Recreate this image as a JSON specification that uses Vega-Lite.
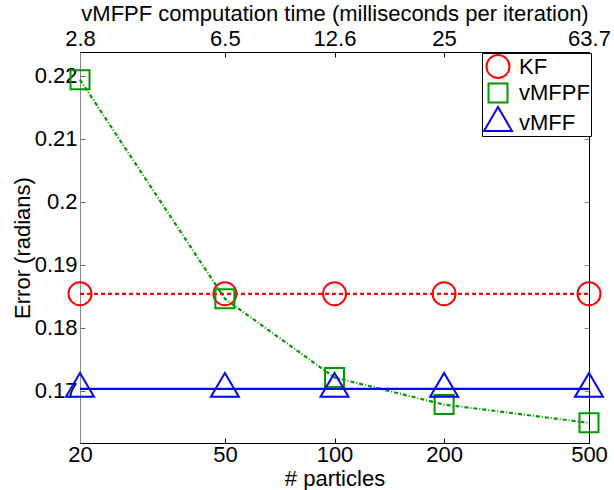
{
  "$schema": "https://vega.github.io/schema/vega-lite/v6.json",
  "width": 509,
  "height": 391,
  "autosize": {"type": "none"},
  "padding": {"left": 80, "top": 52, "right": 25, "bottom": 47},
  "background": "white",
  "config": {
    "view": {"stroke": "black", "strokeWidth": 1},
    "font": "Liberation Sans",
    "axis": {
      "grid": false,
      "labelFont": "Liberation Sans",
      "labelFontSize": 22,
      "titleFont": "Liberation Sans",
      "titleFontSize": 22,
      "titleFontWeight": "normal",
      "labelColor": "black",
      "titleColor": "black",
      "tickSize": -5,
      "domainColor": "black",
      "tickColor": "black",
      "labelFlush": false,
      "labelOverlap": false
    },
    "legend": {
      "orient": "none",
      "legendX": 402,
      "legendY": 1,
      "strokeColor": "black",
      "fillColor": "white",
      "padding": 1,
      "labelFont": "Liberation Sans",
      "labelFontSize": 22,
      "labelColor": "black",
      "labelOffset": 6,
      "symbolSize": 480,
      "symbolStrokeWidth": 2,
      "rowPadding": -4
    }
  },
  "data": {
    "values": [
      {"particles": 20, "series": "KF", "error": 0.1854},
      {"particles": 50, "series": "KF", "error": 0.1854},
      {"particles": 100, "series": "KF", "error": 0.1854},
      {"particles": 200, "series": "KF", "error": 0.1854},
      {"particles": 500, "series": "KF", "error": 0.1854},
      {"particles": 20, "series": "vMFPF", "error": 0.2194},
      {"particles": 50, "series": "vMFPF", "error": 0.1846},
      {"particles": 100, "series": "vMFPF", "error": 0.1721},
      {"particles": 200, "series": "vMFPF", "error": 0.1678},
      {"particles": 500, "series": "vMFPF", "error": 0.1649},
      {"particles": 20, "series": "vMFF", "error": 0.1703},
      {"particles": 50, "series": "vMFF", "error": 0.1703},
      {"particles": 100, "series": "vMFF", "error": 0.1703},
      {"particles": 200, "series": "vMFF", "error": 0.1703},
      {"particles": 500, "series": "vMFF", "error": 0.1703}
    ]
  },
  "resolve": {"axis": {"x": "independent", "y": "independent"}},
  "layer": [
    {
      "transform": [{"filter": "datum.series == 'KF'"}],
      "mark": {"type": "line", "strokeWidth": 2.2, "strokeDash": [4, 3]},
      "encoding": {
        "x": {
          "field": "particles", "type": "quantitative",
          "scale": {"type": "log", "domain": [20, 500], "nice": false},
          "axis": {"orient": "bottom", "values": [20, 50, 100, 200, 500], "title": "# particles", "labelPadding": 6, "titlePadding": 3}
        },
        "y": {
          "field": "error", "type": "quantitative",
          "scale": {"domain": [0.1617, 0.2238], "nice": false, "zero": false},
          "axis": {"orient": "left", "values": [0.17, 0.18, 0.19, 0.2, 0.21, 0.22], "format": "~g", "title": "Error (radians)", "labelPadding": 8, "domainColor": "#888888", "tickColor": "#666666", "titleX": -46}
        },
        "color": {
          "field": "series", "type": "nominal",
          "scale": {"domain": ["KF", "vMFPF", "vMFF"], "range": ["#ff0000", "#009900", "#0000ff"]},
          "legend": {"title": null, "symbolFillColor": "transparent"}
        }
      }
    },
    {
      "transform": [{"filter": "datum.series == 'vMFPF'"}],
      "mark": {"type": "line", "strokeWidth": 2.2, "strokeDash": [4, 2, 1, 2]},
      "encoding": {
        "x": {"field": "particles", "type": "quantitative", "axis": null},
        "y": {"field": "error", "type": "quantitative", "axis": null},
        "color": {"field": "series", "type": "nominal", "legend": {"title": null, "symbolFillColor": "transparent"}}
      }
    },
    {
      "transform": [{"filter": "datum.series == 'vMFF'"}],
      "mark": {"type": "line", "strokeWidth": 2.4},
      "encoding": {
        "x": {"field": "particles", "type": "quantitative", "axis": null},
        "y": {"field": "error", "type": "quantitative", "axis": null},
        "color": {"field": "series", "type": "nominal", "legend": {"title": null, "symbolFillColor": "transparent"}}
      }
    },
    {
      "mark": {"type": "point", "filled": false, "strokeWidth": 2, "opacity": 1},
      "encoding": {
        "x": {"field": "particles", "type": "quantitative", "axis": null},
        "y": {"field": "error", "type": "quantitative", "axis": null},
        "color": {"field": "series", "type": "nominal", "legend": {"title": null, "symbolFillColor": "transparent"}},
        "shape": {
          "field": "series", "type": "nominal",
          "scale": {"domain": ["KF", "vMFPF", "vMFF"], "range": ["circle", "square", "M-1,0.57L1,0.57L0,-1.14Z"]},
          "legend": {"title": null}
        },
        "size": {
          "field": "series", "type": "nominal",
          "scale": {"type": "ordinal", "domain": ["KF", "vMFPF", "vMFF"], "range": [529, 361, 784]},
          "legend": null
        }
      }
    },
    {
      "mark": {"type": "point", "opacity": 0},
      "encoding": {
        "x": {
          "field": "particles", "type": "quantitative",
          "axis": {"orient": "top", "values": [20, 50, 100, 200, 500], "title": "vMFPF computation time (milliseconds per iteration)", "labelExpr": "datum.value == 20 ? '2.8' : datum.value == 50 ? '6.5' : datum.value == 100 ? '12.6' : datum.value == 200 ? '25' : '63.7'", "labelPadding": 7, "titlePadding": 2}
        },
        "y": {
          "field": "error", "type": "quantitative",
          "axis": {"orient": "right", "values": [0.17, 0.18, 0.19, 0.2, 0.21, 0.22], "labels": false, "title": null, "tickColor": "#888888"}
        }
      }
    }
  ]
}
